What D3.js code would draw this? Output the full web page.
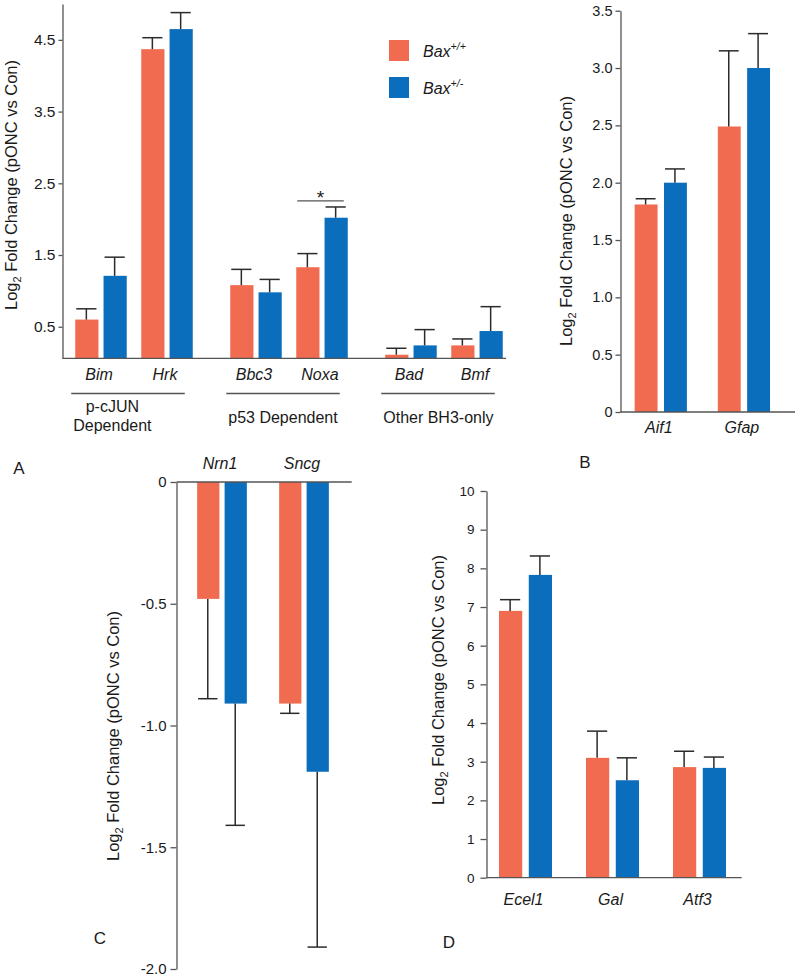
<!DOCTYPE html>
<html><head><meta charset="utf-8">
<script src="https://cdn.jsdelivr.net/npm/d3@7"></script>
<style>body{margin:0;background:#fff}</style>
</head><body><svg id="c" width="800" height="980" xmlns="http://www.w3.org/2000/svg"></svg>
<script>
// ---------- DATA ----------
const seriesBase = "Bax";
const seriesSup = ["+/+", "+/-"];
const series = ["Bax+/+", "Bax+/-"];
const colors = ["#F06B4F", "#0A6EBD"];

// Panel A
const groupsA = ["p-cJUN Dependent", "p53 Dependent", "Other BH3-only"];
const groupLinesA = [["p-cJUN", "Dependent"], ["p53 Dependent"], ["Other BH3-only"]];
const genesA = ["Bim", "Hrk", "Bbc3", "Noxa", "Bad", "Bmf"];
const geneGroupA = [0, 0, 1, 1, 2, 2];
const wtA = [0.60, 4.37, 1.08, 1.33, 0.11, 0.24];
const wtErrA = [0.15, 0.16, 0.22, 0.19, 0.09, 0.09];
const hetA = [1.21, 4.65, 0.98, 2.02, 0.24, 0.44];
const hetErrA = [0.26, 0.23, 0.18, 0.15, 0.22, 0.34];
const ticksA = [0.5, 1.5, 2.5, 3.5, 4.5];
const domainA = [0.06, 5.0];
const sigGeneA = "Noxa";

// Panel B
const genesB = ["Aif1", "Gfap"];
const wtB = [1.81, 2.49];
const wtErrB = [0.05, 0.66];
const hetB = [2.00, 3.00];
const hetErrB = [0.12, 0.30];
const ticksB = [0, 0.5, 1.0, 1.5, 2.0, 2.5, 3.0, 3.5];
const domainB = [0, 3.5];

// Panel C
const genesC = ["Nrn1", "Sncg"];
const wtC = [-0.48, -0.91];
const wtErrC = [0.41, 0.04];
const hetC = [-0.91, -1.19];
const hetErrC = [0.50, 0.72];
const ticksC = [0, -0.5, -1.0, -1.5, -2.0];
const domainC = [0, -2.0];

// Panel D
const genesD = ["Ecel1", "Gal", "Atf3"];
const wtD = [6.90, 3.10, 2.86];
const wtErrD = [0.29, 0.69, 0.41];
const hetD = [7.83, 2.52, 2.84];
const hetErrD = [0.49, 0.58, 0.28];
const ticksD = [0, 1, 2, 3, 4, 5, 6, 7, 8, 9, 10];
const domainD = [0, 10];

const yTitle = ["Log", "2", " Fold Change (pONC vs Con)"];
const panelLetters = ["A", "B", "C", "D"];

// ---------- DRAW ----------
const FONT = "Arial, 'Liberation Sans', Helvetica, sans-serif";
const AX = "#555", ERR = "#2b2b2b", TXT = "#1a1a1a";
const svg = d3.select("#c").attr("font-family", FONT);

function fmt1(d) { return d === 0 ? "0" : (d < 0 ? "-" : "") + Math.abs(d).toFixed(1); }

function yAxis(x, y, ticks, fmt, size, pad, fs) {
  const ax = svg.append("g").attr("transform", `translate(${x},0)`)
    .call(d3.axisLeft(y).tickValues(ticks).tickFormat(fmt).tickSize(size).tickPadding(pad).tickSizeOuter(0));
  ax.attr("font-family", FONT);
  ax.select(".domain").attr("stroke", AX).attr("stroke-width", 1.3);
  ax.selectAll(".tick line").attr("stroke", AX).attr("stroke-width", 1.3);
  ax.selectAll(".tick text").attr("fill", TXT).attr("font-size", fs);
}

function baseline(x1, x2, yv) {
  svg.append("line").attr("x1", x1).attr("x2", x2).attr("y1", yv).attr("y2", yv)
    .attr("stroke", AX).attr("stroke-width", 1.3);
}

function bars(genes, wt, wtErr, het, hetErr, xLeft, bw, y, base, innerPad) {
  const xs = d3.scaleBand().domain(series).range([0, bw]).paddingInner(innerPad);
  const data = genes.flatMap((gname, i) => [
    { i, s: 0, v: wt[i], e: wtErr[i] },
    { i, s: 1, v: het[i], e: hetErr[i] }]);
  const g = svg.append("g");
  g.selectAll("rect").data(data).join("rect")
    .attr("x", d => xLeft(d.i) + xs(series[d.s]))
    .attr("width", xs.bandwidth())
    .attr("y", d => Math.min(y(d.v), y(base)))
    .attr("height", d => Math.abs(y(d.v) - y(base)))
    .attr("fill", d => colors[d.s]);
  const cw = xs.bandwidth() * 0.87;
  const eg = g.selectAll("g.err").data(data).join("g").attr("class", "err");
  eg.append("line")
    .attr("x1", d => xLeft(d.i) + xs(series[d.s]) + xs.bandwidth() / 2 - 0.5)
    .attr("x2", d => xLeft(d.i) + xs(series[d.s]) + xs.bandwidth() / 2 - 0.5)
    .attr("y1", d => y(d.v))
    .attr("y2", d => y(d.v + Math.sign(d.v) * d.e))
    .attr("stroke", ERR).attr("stroke-width", 1.5);
  eg.append("line")
    .attr("x1", d => xLeft(d.i) + xs(series[d.s]) + xs.bandwidth() / 2 - 0.5 - cw / 2)
    .attr("x2", d => xLeft(d.i) + xs(series[d.s]) + xs.bandwidth() / 2 - 0.5 + cw / 2)
    .attr("y1", d => y(d.v + Math.sign(d.v) * d.e))
    .attr("y2", d => y(d.v + Math.sign(d.v) * d.e))
    .attr("stroke", ERR).attr("stroke-width", 1.5);
  return xs;
}

function geneLabels(genes, xLeft, bw, yb) {
  svg.append("g").selectAll("text").data(genes).join("text")
    .attr("x", (d, i) => xLeft(i) + bw / 2 - 2)
    .attr("y", yb)
    .attr("text-anchor", "middle")
    .attr("font-size", 16).attr("font-style", "italic").attr("fill", TXT)
    .text(d => d);
}

function yLabel(x, yc) {
  const t = svg.append("text").attr("transform", `translate(${x},${yc}) rotate(-90)`)
    .attr("text-anchor", "middle").attr("font-size", 16.5).attr("fill", TXT);
  t.append("tspan").text(yTitle[0]);
  t.append("tspan").attr("font-size", 11).attr("dy", 4).text(yTitle[1]);
  t.append("tspan").attr("dy", -4).text(yTitle[2]);
}

function letter(txt, x, yb) {
  svg.append("text").attr("x", x).attr("y", yb).attr("text-anchor", "middle")
    .attr("font-size", 17).attr("fill", TXT).text(txt);
}

// ---- Panel A ----
{
  const axX = 62.5;
  const y = d3.scaleLinear().domain(domainA).range([358.3, 4]);
  const outer = d3.scaleBand().domain(groupsA).range([56.5, 521.5]).padding(0);
  const inner = d3.scaleBand().domain([0, 1]).range([0, outer.bandwidth()]).paddingInner(0.22).paddingOuter(0.284);
  const idxInGroup = genesA.map((g, i) => geneGroupA.slice(0, i).filter(k => k === geneGroupA[i]).length);
  const xLeft = i => outer(groupsA[geneGroupA[i]]) + inner(idxInGroup[i]);
  const bw = inner.bandwidth();
  const xs = bars(genesA, wtA, wtErrA, hetA, hetErrA, xLeft, bw, y, domainA[0], 0.18);
  baseline(axX, 506, y(domainA[0]));
  yAxis(axX, y, ticksA, d => d.toFixed(1), 4, 3, 15.5);
  geneLabels(genesA, xLeft, bw, 380);

  // group brackets and labels
  groupsA.forEach((gname, gi) => {
    const idx = genesA.map((g, i) => i).filter(i => geneGroupA[i] === gi);
    const lx1 = xLeft(idx[0]) - 4;
    const lx2 = xLeft(idx[idx.length - 1]) + bw - 8;
    baseline(lx1, lx2, 393.5);
    const lines = groupLinesA[gi];
    const t = svg.append("g");
    const texts = lines.map((ln, li) => t.append("text")
      .attr("y", lines.length === 1 ? 422.5 : 412 + li * 18.5)
      .attr("text-anchor", "middle").attr("font-size", 16).attr("fill", TXT).text(ln));
    const maxW = d3.max(texts, tx => tx.node().getComputedTextLength());
    texts.forEach(tx => tx.attr("x", lx1 + 2 + maxW / 2));
  });

  // significance marker
  const si = genesA.indexOf(sigGeneA);
  const sy = y(hetA[si] + hetErrA[si]) - 6;
  const sx1 = xLeft(si) + 1, sx2 = xLeft(si) + bw - 4;
  baseline(sx1, sx2, sy);
  svg.append("text").attr("x", (sx1 + sx2) / 2).attr("y", sy + 3.5).attr("text-anchor", "middle")
    .attr("font-size", 19).attr("fill", TXT).text("*");

  // legend
  const lg = svg.append("g");
  series.forEach((s, k) => {
    lg.append("rect").attr("x", 389).attr("y", 40 + k * 37).attr("width", 20).attr("height", 21).attr("fill", colors[k]);
    const t = lg.append("text").attr("x", 423).attr("y", 57 + k * 37).attr("font-size", 16)
      .attr("font-style", "italic").attr("fill", TXT);
    t.append("tspan").text(seriesBase);
    t.append("tspan").attr("font-size", 10.5).attr("dy", -7).text(seriesSup[k]);
  });

  yLabel(17, 185);
  letter(panelLetters[0], 19, 473.5);
}

// ---- Panel B ----
{
  const axX = 620.5;
  const y = d3.scaleLinear().domain(domainB).range([412, 10.7]);
  const xb = d3.scaleBand().domain(genesB).range([620.7, 784]).paddingInner(0.372).paddingOuter(0.168);
  const xLeft = i => xb(genesB[i]);
  bars(genesB, wtB, wtErrB, hetB, hetErrB, xLeft, xb.bandwidth(), y, 0, 0.22);
  baseline(axX, 795, y(0));
  yAxis(axX, y, ticksB, fmt1, 5, 3, 14.5);
  geneLabels(genesB, xLeft, xb.bandwidth(), 433);
  yLabel(572, 221);
  letter(panelLetters[1], 585, 467.5);
}

// ---- Panel C ----
{
  const axX = 176.5;
  const y = d3.scaleLinear().domain(domainC).range([482, 969]);
  const xb = d3.scaleBand().domain(genesC).range([176, 350]).paddingInner(0.394).paddingOuter(0.258);
  const xLeft = i => xb(genesC[i]);
  bars(genesC, wtC, wtErrC, hetC, hetErrC, xLeft, xb.bandwidth(), y, 0, 0.19);
  baseline(axX, 351.7, y(0));
  yAxis(axX, y, ticksC, fmt1, 6, 4, 15);
  geneLabels(genesC, xLeft, xb.bandwidth(), 468.5);
  yLabel(119, 736);
  letter(panelLetters[2], 100, 943.5);
}

// ---- Panel D ----
{
  const axX = 486.5;
  const y = d3.scaleLinear().domain(domainD).range([877.7, 491]);
  const xb = d3.scaleBand().domain(genesD).range([487, 738]).paddingInner(0.391).paddingOuter(0.138);
  const xLeft = i => xb(genesD[i]);
  bars(genesD, wtD, wtErrD, hetD, hetErrD, xLeft, xb.bandwidth(), y, 0, 0.22);
  baseline(axX, 741.7, y(0));
  yAxis(axX, y, ticksD, d => String(d), 6, 6, 13.5);
  geneLabels(genesD, xLeft, xb.bandwidth(), 905);
  yLabel(444, 680);
  letter(panelLetters[3], 449, 947.5);
}
</script>
</body></html>
